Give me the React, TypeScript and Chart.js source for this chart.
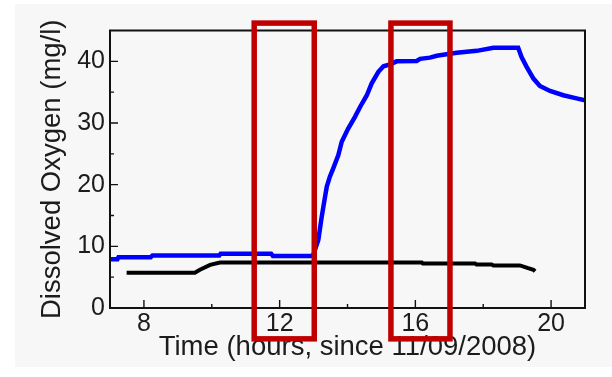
import React, { useEffect, useRef } from 'react';
import { Chart, registerables } from 'chart.js';

Chart.register(...registerables);

// Blue series: dissolved oxygen (mg/l) vs time (hours since 11/09/2008)
const blueTime = [7.0, 7.22, 7.25, 8.2, 8.25, 10.22, 10.26, 11.75, 11.8, 12.94, 12.99, 13.14, 13.24, 13.34, 13.39, 13.48, 13.58, 13.73, 13.83, 14.02, 14.22, 14.37, 14.57, 14.71, 14.91, 15.06, 15.25, 15.45, 16.04, 16.14, 16.43, 16.63, 16.92, 17.22, 17.81, 18.3, 19.03, 19.13, 19.28, 19.48, 19.67, 19.97, 20.36, 20.75, 21.0];
const blueDO = [7.9, 7.9, 8.25, 8.25, 8.5, 8.5, 8.8, 8.8, 8.45, 8.45, 8.6, 11.05, 14.8, 18.1, 19.7, 21.3, 22.65, 24.8, 26.96, 29.1, 31.0, 32.6, 34.5, 36.4, 38.3, 39.2, 39.5, 40.0, 40.07, 40.4, 40.6, 40.9, 41.15, 41.4, 41.7, 42.2, 42.2, 40.7, 39.1, 37.2, 36.0, 35.2, 34.5, 34.0, 33.7];

// Black series
const blackTime = [7.49, 9.5, 9.65, 9.95, 10.24, 16.19, 16.22, 17.76, 17.8, 18.25, 18.3, 19.08, 19.3, 19.48, 19.53];
const blackDO = [5.71, 5.71, 6.2, 7.0, 7.38, 7.38, 7.22, 7.22, 7.05, 7.05, 6.9, 6.9, 6.5, 6.2, 5.95];

const xTickValues = [8, 12, 16, 20];
const xMinorTicks = [10, 14, 18];
const yTickValues = [0, 10, 20, 30, 40];
const yMinorTicks = [5, 15, 25, 35];

// Highlight rectangles (in data units)
const highlightStart = [11.25, 15.28];
const highlightEnd = [13.02, 17.02];
const highlightTop = 46.2;
const highlightBottom = -5.0;

const FONT = '"Liberation Sans", Arial, Helvetica, sans-serif';
const TEXT = '#1c1c1c';

const framePlugin = {
  id: 'framePlugin',
  beforeDraw(chart: any) {
    const ctx = chart.ctx;
    ctx.save();
    ctx.fillStyle = '#ffffff';
    ctx.fillRect(0, 0, chart.width, chart.height);
    ctx.fillStyle = '#f7f7f7';
    ctx.fillRect(15, 4, chart.width - 15, 363);
    ctx.restore();
  },
  afterDatasetsDraw(chart: any) {
    const { ctx, chartArea: a, scales } = chart;
    const xs = scales.x;
    const ys = scales.y;
    ctx.save();
    ctx.strokeStyle = '#111111';
    ctx.lineWidth = 1.4;
    ctx.beginPath();
    for (const v of xTickValues) {
      const px = xs.getPixelForValue(v);
      ctx.moveTo(px, a.bottom);
      ctx.lineTo(px, a.bottom - 8);
    }
    for (const v of xMinorTicks) {
      const px = xs.getPixelForValue(v);
      ctx.moveTo(px, a.bottom);
      ctx.lineTo(px, a.bottom - 4);
    }
    for (const v of yTickValues) {
      const py = ys.getPixelForValue(v);
      ctx.moveTo(a.left, py);
      ctx.lineTo(a.left + 8, py);
    }
    for (const v of yMinorTicks) {
      const py = ys.getPixelForValue(v);
      ctx.moveTo(a.left, py);
      ctx.lineTo(a.left + 4, py);
    }
    ctx.stroke();
    ctx.lineWidth = 2;
    ctx.strokeRect(a.left, a.top, a.right - a.left, a.bottom - a.top);
    ctx.restore();
  },
  afterDraw(chart: any) {
    const { ctx, scales } = chart;
    const xs = scales.x;
    const ys = scales.y;
    ctx.save();
    ctx.strokeStyle = '#c00000';
    ctx.lineWidth = 5.5;
    for (let i = 0; i < highlightStart.length; i++) {
      const x0 = xs.getPixelForValue(highlightStart[i]);
      const x1 = xs.getPixelForValue(highlightEnd[i]);
      const y0 = ys.getPixelForValue(highlightTop);
      const y1 = ys.getPixelForValue(highlightBottom);
      ctx.strokeRect(x0, y0, x1 - x0, y1 - y0);
    }
    ctx.restore();
  },
};

export default function App() {
  const canvasRef = useRef<HTMLCanvasElement | null>(null);

  useEffect(() => {
    if (!canvasRef.current) return;
    const chart = new Chart(canvasRef.current, {
      type: 'line',
      data: {
        datasets: [
          {
            label: 'Black',
            data: blackTime.map((t, i) => ({ x: t, y: blackDO[i] })),
            borderColor: '#000000',
            borderWidth: 4,
            pointRadius: 0,
            tension: 0,
            fill: false,
          },
          {
            label: 'Blue',
            data: blueTime.map((t, i) => ({ x: t, y: blueDO[i] })),
            borderColor: '#0000ff',
            borderWidth: 4.5,
            pointRadius: 0,
            tension: 0,
            fill: false,
          },
        ],
      },
      options: {
        responsive: false,
        animation: false,
        devicePixelRatio: 1,
        layout: { padding: { top: 30.5, right: 27, left: 0, bottom: 0 } },
        plugins: {
          legend: { display: false },
          tooltip: { enabled: false },
        },
        scales: {
          x: {
            type: 'linear',
            min: 7,
            max: 21,
            grid: { display: false, drawTicks: false },
            border: { display: false },
            afterBuildTicks: (s: any) => {
              s.ticks = xTickValues.map((v) => ({ value: v }));
            },
            afterFit: (s: any) => {
              s.height = 69;
            },
            ticks: {
              autoSkip: false,
              maxRotation: 0,
              padding: 1,
              color: TEXT,
              font: { family: FONT, size: 25 },
              callback: (v: any) => String(v),
            },
            title: {
              display: true,
              text: 'Time (hours, since 11/09/2008)',
              color: TEXT,
              font: { family: FONT, size: 27.5 },
              padding: { top: 0, bottom: 13 },
            },
          },
          y: {
            type: 'linear',
            min: 0,
            max: 45,
            grid: { display: false, drawTicks: false },
            border: { display: false },
            afterBuildTicks: (s: any) => {
              s.ticks = yTickValues.map((v) => ({ value: v }));
            },
            afterFit: (s: any) => {
              s.width = 110;
            },
            ticks: {
              autoSkip: false,
              padding: 5,
              color: TEXT,
              font: { family: FONT, size: 25 },
              callback: (v: any) => String(v),
            },
            title: {
              display: true,
              text: 'Dissolved Oxygen (mg/l)',
              color: TEXT,
              font: { family: FONT, size: 27.5 },
              padding: { top: 35.5, bottom: 0 },
            },
          },
        },
      },
      plugins: [framePlugin],
    } as any);
    return () => chart.destroy();
  }, []);

  return (
    <div style={{ position: 'fixed', left: 0, top: 0, width: 612, height: 377 }}>
      <canvas ref={canvasRef} width={612} height={377} style={{ display: 'block' }} />
    </div>
  );
}
